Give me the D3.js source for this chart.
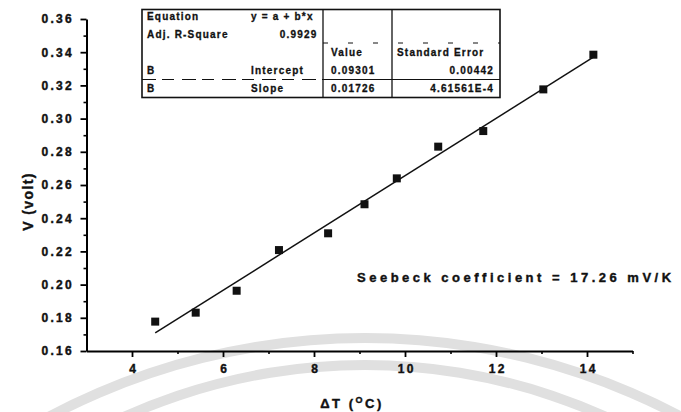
<!DOCTYPE html>
<html lang="en">
<head>
<meta charset="UTF-8">
<title>Seebeck coefficient</title>
<script src="https://d3js.org/d3.v7.min.js"></script>
<style>
    body {
        margin: 0;
        background-color: #fff;
    }
    svg {
        display: block;
        font-family: "Liberation Sans", Arial, sans-serif;
        font-weight: bold;
    }
    .tick text {
        font-size: 12px;
        letter-spacing: 2.3px;
        fill: #111;
        stroke: #111;
        stroke-width: 0.4px;
    }
    .axisTitle {
        font-size: 14px;
        letter-spacing: 1.4px;
        fill: #111;
        stroke: #111;
        stroke-width: 0.4px;
    }
    .tbl {
        font-size: 10px;
        letter-spacing: 1.2px;
        fill: #111;
        stroke: #111;
        stroke-width: 0.3px;
    }
    .note {
        font-size: 13px;
        letter-spacing: 3.5px;
        fill: #111;
        stroke: #111;
        stroke-width: 0.4px;
    }
</style>
</head>
<body>
<script>
    // data
    const dT = [4.51, 5.40, 6.30, 7.23, 8.31, 9.11, 9.82, 10.73, 11.72, 13.04, 14.14];
    const volt = [0.1777, 0.1831, 0.1963, 0.2208, 0.2309, 0.2484, 0.2640, 0.2831, 0.2925, 0.3176, 0.3385];
    const fitIntercept = 0.09301;
    const fitSlope = 0.01726;

    const xTicks = [4, 6, 8, 10, 12, 14];
    const xMinor = [5, 7, 9, 11, 13, 15];
    const yTicks = [0.16, 0.18, 0.20, 0.22, 0.24, 0.26, 0.28, 0.30, 0.32, 0.34, 0.36];
    const yMinor = [0.17, 0.19, 0.21, 0.23, 0.25, 0.27, 0.29, 0.31, 0.33, 0.35];

    const tableRows = [
        ["Equation", "y = a + b*x", "", ""],
        ["Adj. R-Square", "0.9929", "", ""],
        ["", "", "Value", "Standard Error"],
        ["B", "Intercept", "0.09301", "0.00442"],
        ["B", "Slope", "0.01726", "4.61561E-4"]
    ];
    const note = "Seebeck coefficient = 17.26 mV/K";

    const width = 681;
    const height = 412;

    const svg = d3.select("body").append("svg")
        .attr("width", width)
        .attr("height", height)
        .style("background-color", "white");

    // faint watermark arcs behind everything
    const arcs = [
        { cx: 365, cy: 1012, r: 674 },
        { cx: 365, cy: 951, r: 586 }
    ];
    arcs.forEach(a => {
        svg.append("path")
            .attr("transform", `translate(${a.cx},${a.cy})`)
            .attr("d", d3.arc()({ innerRadius: a.r - 5, outerRadius: a.r + 5, startAngle: -0.65, endAngle: 0.65 }))
            .attr("fill", "#e0e0e0");
    });

    const x = d3.scaleLinear().domain([3, 15]).range([86.5, 632.5]);
    const y = d3.scaleLinear().domain([0.16, 0.36]).range([351, 19]);

    // minor ticks first
    svg.append("g")
        .attr("transform", `translate(0,${y(0.16)})`)
        .call(d3.axisBottom(x).tickValues(xMinor).tickSize(3).tickFormat(""))
        .call(g => g.select(".domain").remove())
        .call(g => g.selectAll("line").attr("stroke-width", 1.6));
    svg.append("g")
        .attr("transform", `translate(${x(3)},0)`)
        .call(d3.axisLeft(y).tickValues(yMinor).tickSize(3).tickFormat(""))
        .call(g => g.select(".domain").remove())
        .call(g => g.selectAll("line").attr("stroke-width", 1.6));

    // x axis
    svg.append("g")
        .attr("transform", `translate(0,${y(0.16)})`)
        .call(d3.axisBottom(x).tickValues(xTicks).tickSize(6).tickSizeOuter(0).tickPadding(7.5))
        .call(g => g.select(".domain").attr("stroke-width", 2))
        .call(g => g.selectAll(".tick line").attr("stroke-width", 1.8))
        .call(g => g.selectAll(".tick text").attr("dx", "1.15"));

    // y axis
    svg.append("g")
        .attr("transform", `translate(${x(3)},0)`)
        .call(d3.axisLeft(y).tickValues(yTicks).tickSize(6).tickSizeOuter(0).tickPadding(6.5).tickFormat(d3.format(".2f")))
        .call(g => g.select(".domain").attr("stroke-width", 2))
        .call(g => g.selectAll(".tick line").attr("stroke-width", 1.8));

    // axis titles
    svg.append("text")
        .attr("class", "axisTitle")
        .attr("transform", "translate(32.5,201.5) rotate(-90)")
        .attr("text-anchor", "middle")
        .text("V (volt)");

    const xt = svg.append("text")
        .attr("class", "axisTitle")
        .attr("x", 352)
        .attr("y", 408)
        .attr("text-anchor", "middle")
        .style("font-size", "13px")
        .style("letter-spacing", "2.5px");
    xt.append("tspan").text("\u0394T (");
    xt.append("tspan").attr("dy", -5).style("font-size", "9px").text("O");
    xt.append("tspan").attr("dy", 5).text("C)");

    // fitted line
    const xr = d3.extent(dT);
    svg.append("path")
        .datum(xr)
        .attr("fill", "none")
        .attr("stroke", "#111")
        .attr("stroke-width", 1.5)
        .attr("d", d3.line().x(d => x(d)).y(d => y(fitIntercept + fitSlope * d)));

    // data squares
    svg.append("g")
        .selectAll("rect")
        .data(dT.map((d, i) => [d, volt[i]]))
        .join("rect")
        .attr("x", d => x(d[0]) - 4)
        .attr("y", d => y(d[1]) - 4)
        .attr("width", 8)
        .attr("height", 8)
        .attr("fill", "#111");

    // fit result table
    const tb = { left: 142, top: 9.5, right: 500, bottom: 97.5, row: 18 };
    const colX = [142, 323, 392, 500];
    const tg = svg.append("g");

    tg.append("rect")
        .attr("x", tb.left)
        .attr("y", tb.top)
        .attr("width", tb.right - tb.left)
        .attr("height", tb.bottom - tb.top)
        .attr("fill", "white")
        .attr("stroke", "#111")
        .attr("stroke-width", 1.6);

    [colX[1], colX[2]].forEach(cx => {
        tg.append("line")
            .attr("x1", cx).attr("x2", cx)
            .attr("y1", tb.top).attr("y2", tb.bottom)
            .attr("stroke", "#111")
            .attr("stroke-width", 1.3);
    });

    // line between the two fit rows: dashed on the left, solid under the numbers
    tg.append("line")
        .attr("x1", tb.left).attr("x2", colX[1])
        .attr("y1", 79.5).attr("y2", 79.5)
        .attr("stroke", "#111")
        .attr("stroke-dasharray", "14 6 12 8")
        .attr("stroke-width", 1);
    tg.append("line")
        .attr("x1", colX[1]).attr("x2", tb.right)
        .attr("y1", 79.5).attr("y2", 79.5)
        .attr("stroke", "#111")
        .attr("stroke-width", 1.2);
    tg.append("line")
        .attr("x1", colX[1]).attr("x2", tb.right)
        .attr("y1", 43).attr("y2", 43)
        .attr("stroke", "#111")
        .attr("stroke-dasharray", "5 20")
        .attr("stroke-width", 1);

    const isNum = s => /^[0-9.E-]+$/.test(s);
    tableRows.forEach((row, r) => {
        const base = 19.5 + r * tb.row;
        row.forEach((cell, c) => {
            if (!cell) return;
            let tx, anchor = "start";
            if (c === 0) tx = 147;
            else if (c === 1) {
                if (isNum(cell)) { tx = 317.5; anchor = "end"; } else tx = 251;
            } else if (c === 2) tx = 331;
            else {
                if (isNum(cell)) { tx = 494; anchor = "end"; } else tx = 397;
            }
            tg.append("text")
                .attr("class", "tbl")
                .attr("x", tx)
                .attr("y", base)
                .attr("text-anchor", anchor)
                .text(cell);
        });
    });

    // coefficient note
    svg.append("text")
        .attr("class", "note")
        .attr("x", 357)
        .attr("y", 282)
        .text(note);
</script>
</body>
</html>
